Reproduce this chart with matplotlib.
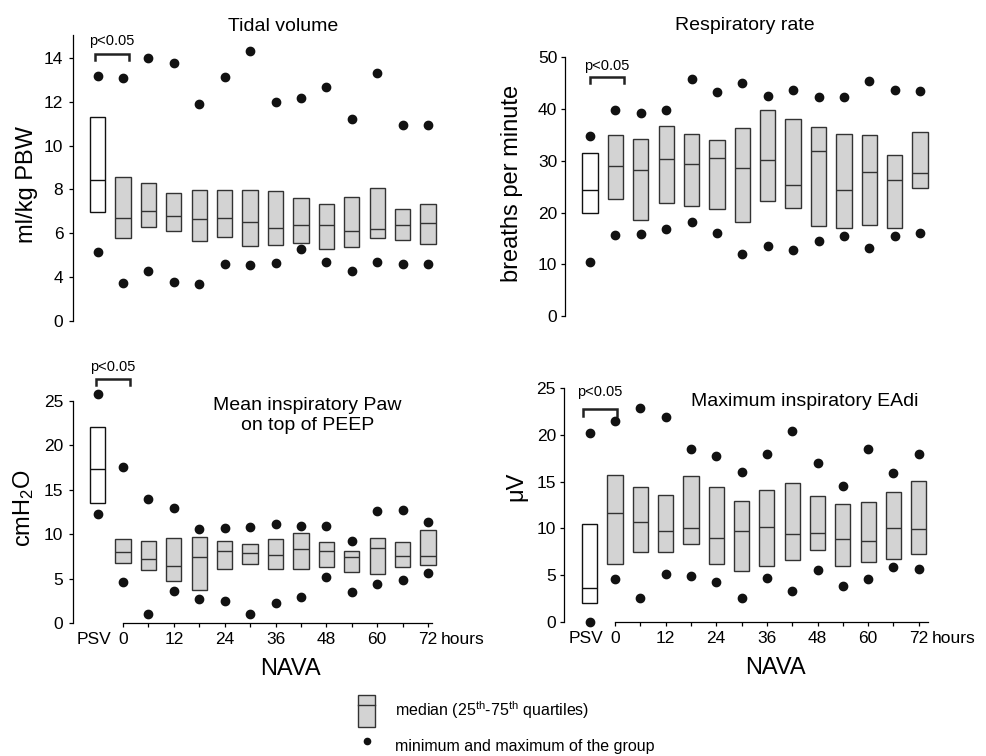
import numpy as np
import matplotlib.pyplot as plt
from matplotlib.patches import Patch
from matplotlib.lines import Line2D
from matplotlib.legend_handler import HandlerTuple

plt.rcParams['font.family'] = ['Liberation Sans', 'DejaVu Sans']
plt.rcParams['mathtext.fontset'] = 'custom'
plt.rcParams['mathtext.rm'] = 'Liberation Sans'
plt.rcParams['mathtext.default'] = 'regular'

# NAVA time points (hours); PSV baseline goes one slot before 0
nava_hours = [0, 6, 12, 18, 24, 30, 36, 42, 48, 54, 60, 66, 72]
x = np.array([-6] + nava_hours)

# first entry of every list = PSV
# tidal volume, ml/kg PBW
tv_q1 = [6.96, 5.80, 6.26, 6.12, 5.65, 5.83, 5.39, 5.45, 5.55, 5.28, 5.37, 5.80, 5.69, 5.52]
tv_med = [8.42, 6.68, 7.03, 6.80, 6.64, 6.71, 6.53, 6.22, 6.36, 6.38, 6.12, 6.21, 6.38, 6.47]
tv_q3 = [11.30, 8.56, 8.31, 7.84, 7.96, 7.96, 7.99, 7.93, 7.63, 7.32, 7.64, 8.05, 7.09, 7.32]
tv_min = [5.16, 3.74, 4.29, 3.76, 3.66, 4.58, 4.55, 4.63, 5.28, 4.69, 4.29, 4.66, 4.61, 4.61]
tv_max = [13.18, 13.12, 14.0, 13.77, 11.93, 13.15, 14.34, 11.99, 12.19, 12.70, 11.24, 13.33, 10.94, 10.97]

# respiratory rate, breaths/min
rr_q1 = [20.0, 22.6, 18.6, 21.8, 21.3, 20.6, 18.1, 22.3, 20.8, 17.3, 17.0, 17.5, 17.1, 24.8]
rr_med = [24.3, 29.0, 28.2, 30.3, 29.3, 30.5, 28.7, 30.1, 25.3, 31.8, 24.4, 27.9, 26.3, 27.6]
rr_q3 = [31.6, 35.0, 34.2, 36.8, 35.1, 34.1, 36.3, 39.9, 38.0, 36.5, 35.1, 35.0, 31.2, 35.5]
rr_min = [10.4, 15.7, 15.8, 16.8, 18.2, 16.1, 11.9, 13.6, 12.8, 14.4, 15.5, 13.1, 15.4, 16.0]
rr_max = [34.7, 39.8, 39.3, 39.8, 45.8, 43.2, 45.1, 42.5, 43.7, 42.3, 42.4, 45.5, 43.7, 43.4]

# mean inspiratory Paw above PEEP, cmH2O
paw_q1 = [13.5, 6.75, 6.0, 4.72, 3.71, 6.07, 6.67, 6.15, 6.07, 6.33, 5.73, 5.51, 6.30, 6.60]
paw_med = [17.4, 8.02, 7.20, 6.41, 7.42, 8.17, 7.95, 7.72, 8.40, 8.13, 7.46, 8.43, 7.57, 7.61]
paw_q3 = [22.1, 9.52, 9.26, 9.60, 9.75, 9.26, 8.88, 9.48, 10.19, 9.11, 8.17, 9.60, 9.11, 10.46]
paw_min = [12.3, 4.61, 1.09, 3.67, 2.77, 2.47, 1.05, 2.32, 2.92, 5.17, 3.49, 4.39, 4.87, 5.66]
paw_max = [25.75, 17.6, 13.94, 13.0, 10.64, 10.72, 10.83, 11.21, 10.94, 10.98, 9.26, 12.59, 12.74, 11.36]

# maximum inspiratory EAdi, uV
ea_q1 = [2.10, 6.18, 7.49, 7.46, 8.35, 6.21, 5.50, 6.00, 6.64, 7.71, 6.04, 6.46, 6.78, 7.28]
ea_med = [3.62, 11.61, 10.65, 9.77, 10.05, 8.98, 9.77, 10.16, 9.38, 9.48, 8.91, 8.63, 10.05, 9.98]
ea_q3 = [10.44, 15.70, 14.38, 13.57, 15.63, 14.38, 12.96, 14.13, 14.84, 13.42, 12.64, 12.86, 13.88, 15.02]
ea_min = [0.0, 4.58, 2.56, 5.18, 4.94, 4.26, 2.56, 4.76, 3.37, 5.54, 3.87, 4.58, 5.86, 5.72]
ea_max = [20.21, 21.41, 22.80, 21.91, 18.43, 17.72, 16.05, 17.93, 20.42, 17.01, 14.49, 18.50, 15.94, 17.93]

W = 3.6
FILL = '#d3d3d3'
EDGE = '#333333'
DOT = '#111111'
TICK_FS = 12.5
TITLE_FS = 14
LABEL_FS = 17


def draw_panel(ax, q1, med, q3, lo, hi):
    face = ['white'] + [FILL] * len(nava_hours)
    edge = ['#111111'] + [EDGE] * len(nava_hours)
    ax.bar(x, np.subtract(q3, q1), bottom=q1, width=W, color=face,
           edgecolor=edge, linewidth=1.0, zorder=2)
    ax.hlines(med, x - W / 2, x + W / 2, colors=edge, lw=1.0, zorder=3)
    ax.plot(x, hi, 'o', color=DOT, ms=6, zorder=4, clip_on=False)
    ax.plot(x, lo, 'o', color=DOT, ms=6, zorder=4, clip_on=False)
    ax.spines['top'].set_visible(False)
    ax.spines['right'].set_visible(False)
    ax.tick_params(axis='y', length=3, width=0.9, labelsize=TICK_FS, pad=4)
    ax.spines['left'].set_linewidth(0.9)
    ax.spines['bottom'].set_linewidth(0.9)


def bracket(ax, x0, x1, y, d, ytext):
    ax.plot([x0, x0, x1, x1], [y - d, y, y, y - d], color='#222222', lw=1.8,
            clip_on=False, solid_joinstyle='miter')
    ax.text((x0 + x1) / 2, ytext, 'p<0.05', ha='center', va='center', fontsize=10.5)


def bottom_axis(ax, right):
    ax.set_xticks(nava_hours)
    ax.set_xticklabels([str(h) if h % 12 == 0 else '' for h in nava_hours])
    ax.spines['bottom'].set_bounds(0, right)
    ax.tick_params(axis='x', length=3, width=0.9, labelsize=TICK_FS, pad=3.3)
    ax.annotate('PSV', xy=(x[0] + 3.3, 0), xycoords=('data', 'axes fraction'),
                xytext=(0, -6.3), textcoords='offset points', ha='right', va='top',
                fontsize=TICK_FS)
    ax.annotate('hours', xy=(75.0, 0), xycoords=('data', 'axes fraction'),
                xytext=(0, -6.3), textcoords='offset points', ha='left', va='top',
                fontsize=TICK_FS)


fig = plt.figure(figsize=(9.86, 7.56), dpi=100)

# tidal volume
ax1 = fig.add_axes([73 / 986, 0.576, 372 / 986, 285.5 / 756])
draw_panel(ax1, tv_q1, tv_med, tv_q3, tv_min, tv_max)
ax1.set_xlim(-11.8, 76)
ax1.set_ylim(2, 15.07)
ax1.set_yticks([2, 4, 6, 8, 10, 12, 14])
ax1.set_yticklabels(['0', '4', '6', '8', '10', '12', '14'])
ax1.spines['bottom'].set_visible(False)
ax1.set_xticks([])
bracket(ax1, -6.7, 1.3, 14.18, 0.27, 14.8)
ax1.text(37.7, 15.45, 'Tidal volume', ha='center', va='center', fontsize=TITLE_FS)
ax1.text(-0.124, 0.475, 'ml/kg PBW', transform=ax1.transAxes, rotation=90,
         ha='center', va='center', fontsize=LABEL_FS)

# respiratory rate
ax2 = fig.add_axes([565 / 986, 1 - 316 / 756, 372 / 986, 258.7 / 756])
draw_panel(ax2, rr_q1, rr_med, rr_q3, rr_min, rr_max)
ax2.set_xlim(-11.9, 76)
ax2.set_ylim(0, 50)
ax2.set_yticks([0, 10, 20, 30, 40, 50])
ax2.tick_params(axis='y', pad=2.5)
ax2.spines['bottom'].set_visible(False)
ax2.set_xticks([])
bracket(ax2, -6.1, 2.0, 46.1, 1.1, 48.4)
ax2.text(30.6, 56.2, 'Respiratory rate', ha='center', va='center', fontsize=TITLE_FS)
ax2.text(-0.143, 0.514, 'breaths per minute', transform=ax2.transAxes, rotation=90,
         ha='center', va='center', fontsize=LABEL_FS)

# mean inspiratory Paw
ax3 = fig.add_axes([73 / 986, 1 - 623.3 / 756, 372 / 986, 257.9 / 756])
draw_panel(ax3, paw_q1, paw_med, paw_q3, paw_min, paw_max)
ax3.set_xlim(-11.8, 76)
ax3.set_ylim(0, 29)
ax3.set_yticks([0, 5, 10, 15, 20, 25])
ax3.spines['left'].set_bounds(0, 25)
bottom_axis(ax3, 72.9)
bracket(ax3, -6.4, 1.6, 27.5, 0.7, 28.8)
ax3.text(43.6, 23.4, 'Mean inspiratory Paw\non top of PEEP', ha='center', va='center',
         fontsize=TITLE_FS, linespacing=1.2)
ax3.text(-0.134, 0.447, 'cmH$_2$O', transform=ax3.transAxes, rotation=90,
         ha='center', va='center', fontsize=LABEL_FS)
ax3.annotate('NAVA', xy=(39.5, 0), xycoords=('data', 'axes fraction'),
             xytext=(0, -33), textcoords='offset points', ha='center', va='center',
             fontsize=LABEL_FS)

# maximum inspiratory EAdi
ax4 = fig.add_axes([564.3 / 986, 1 - 622.3 / 756, 371.4 / 986, 253.4 / 756])
draw_panel(ax4, ea_q1, ea_med, ea_q3, ea_min, ea_max)
ax4.set_xlim(-12, 76)
ax4.set_ylim(0, 27)
ax4.set_yticks([0, 5, 10, 15, 20, 25])
ax4.tick_params(axis='y', pad=3)
ax4.spines['left'].set_bounds(0, 25)
bottom_axis(ax4, 74.2)
bracket(ax4, -7.6, 0.4, 22.7, 0.7, 24.5)
ax4.text(45.0, 23.5, 'Maximum inspiratory EAdi', ha='center', va='center', fontsize=TITLE_FS)
ax4.text(-0.128, 0.535, 'μV', transform=ax4.transAxes, rotation=90,
         ha='center', va='center', fontsize=LABEL_FS)
ax4.annotate('NAVA', xy=(38, 0), xycoords=('data', 'axes fraction'),
             xytext=(0, -33), textcoords='offset points', ha='center', va='center',
             fontsize=LABEL_FS)

# legend
box_handle = (Patch(facecolor=FILL, edgecolor=EDGE, lw=1.0), Line2D([], [], color=EDGE, lw=1.0))
dot_handle = Line2D([], [], marker='o', ls='none', color=DOT, ms=4.5)
leg_fs = 11.5
leg_px = leg_fs * 100 / 72
fig.legend([box_handle, dot_handle],
           ['median (25$^{th}$-75$^{th}$ quartiles)', 'minimum and maximum of the group'],
           loc='upper left', bbox_to_anchor=(358 / 986, 1 - 695 / 756), frameon=False,
           fontsize=leg_fs, handlelength=17 / leg_px, handleheight=2.7,
           handletextpad=20 / leg_px, labelspacing=0.2, borderpad=0, borderaxespad=0,
           handler_map={tuple: HandlerTuple(ndivide=1)})

fig.savefig('out.png', dpi=100)
